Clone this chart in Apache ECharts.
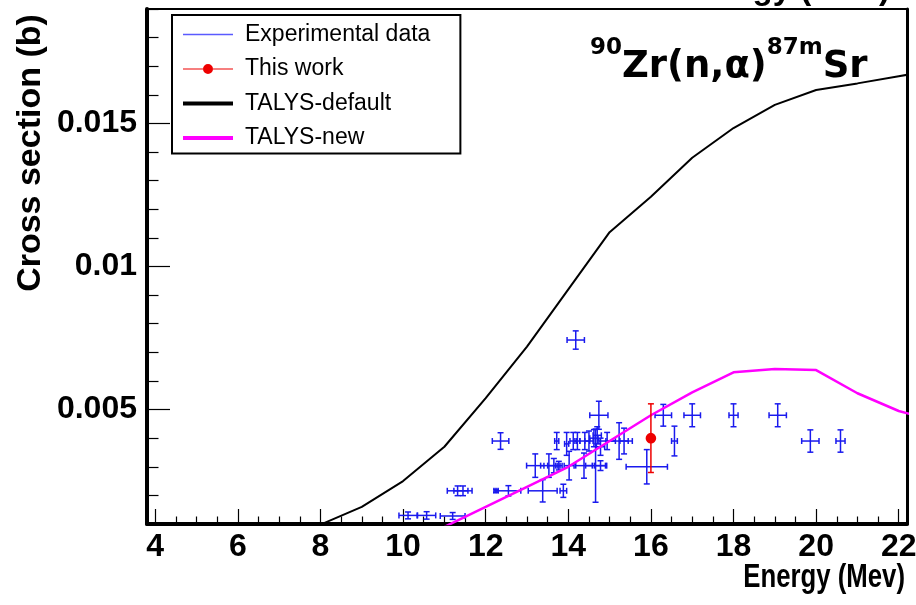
<!DOCTYPE html>
<html><head><meta charset="utf-8">
<script src="https://cdn.jsdelivr.net/npm/echarts@6/dist/echarts.min.js"></script>
<style>html,body{margin:0;padding:0;background:#fff}#c{width:916px;height:605px}</style>
</head><body><div id="c"></div>
<script>
// ---- axis ticks ----
const xMajorTicks = [4, 6, 8, 10, 12, 14, 16, 18, 20, 22];
const xTickLabels = ['4', '6', '8', '10', '12', '14', '16', '18', '20', '22'];
const xMinorTicks = [4.5, 5, 5.5, 6.5, 7, 7.5, 8.5, 9, 9.5, 10.5, 11, 11.5, 12.5, 13, 13.5,
  14.5, 15, 15.5, 16.5, 17, 17.5, 18.5, 19, 19.5, 20.5, 21, 21.5];
const yMajorTicks = [0.005, 0.01, 0.015];
const yTickLabels = ['0.005', '0.01', '0.015'];
const yMinorTicks = [0.001, 0.002, 0.003, 0.004, 0.006, 0.007, 0.008, 0.009, 0.011, 0.012,
  0.013, 0.014, 0.016, 0.017, 0.018, 0.019];

// ---- TALYS-default ----
const talysDefaultE  = [8, 9, 10, 11, 12, 13, 14, 15, 16, 17, 18, 19, 20, 21, 22, 23];
const talysDefaultXS = [0.00098, 0.0016, 0.0025, 0.0037, 0.0054, 0.0072, 0.0092, 0.0112,
  0.01244, 0.0138, 0.01484, 0.01565, 0.01617, 0.0164, 0.01665, 0.0169];

// ---- TALYS-new ----
const talysNewE  = [11, 12, 13, 14, 15, 16, 17, 18, 19, 20, 21, 22, 23];
const talysNewXS = [0.0009, 0.0016, 0.0023, 0.0030, 0.0039, 0.0048, 0.0056, 0.0063,
  0.00642, 0.00638, 0.00557, 0.00495, 0.00456];

// ---- Experimental data (EXFOR) ----
const expE     = [10.12, 10.57, 11.2, 11.32, 11.45, 12.25, 12.55, 13.38, 13.88,
  13.2, 13.53, 13.65, 13.77, 14.02, 14.38, 14.66, 14.78, 15.9,
  12.36, 13.72, 13.96, 14.12, 14.22, 14.4, 14.5, 14.62, 14.7, 14.78, 14.94, 15.23, 15.35, 16.57, 19.86, 20.59,
  14.74, 16.3, 17.0, 18.0, 19.07, 14.18];
const expXS    = [0.0013, 0.0013, 0.00128, 0.00216, 0.00216, 0.00216, 0.00216, 0.00216, 0.00216,
  0.00304, 0.00304, 0.00304, 0.00304, 0.00304, 0.00304, 0.00304, 0.00304, 0.0030,
  0.0039, 0.0039, 0.0038, 0.0039, 0.0039, 0.0039, 0.0039, 0.0040, 0.0041, 0.0037, 0.0039, 0.0039, 0.0039, 0.0039, 0.0039, 0.0039,
  0.0048, 0.0048, 0.0048, 0.0048, 0.0048, 0.00743];
const expEErr  = [0.22, 0.22, 0.3, 0.25, 0.22, 0.05, 0.3, 0.35, 0.08,
  0.21, 0.2, 0.15, 0.08, 0.12, 0.2, 0.24, 0.15, 0.5,
  0.2, 0.05, 0.05, 0.08, 0.06, 0.12, 0.1, 0.1, 0.1, 0.1, 0.2, 0.32, 0.1, 0.07, 0.21, 0.11,
  0.22, 0.2, 0.2, 0.11, 0.21, 0.21];
const expXSErr = [0.00012, 0.00013, 0.00012, 0.00017, 0.00017, 0.00005, 0.00018, 0.00039, 0.00023,
  0.00041, 0.00041, 0.00025, 0.00015, 0.0005, 0.00044, 0.00128, 0.00017, 0.0006,
  0.00029, 0.0003, 0.0004, 0.0003, 0.0003, 0.0003, 0.00035, 0.0003, 0.0003, 0.0003, 0.0003, 0.00064, 0.00045, 0.00052, 0.00039, 0.00039,
  0.00049, 0.00038, 0.0004, 0.0004, 0.0004, 0.00032];

// ---- This work ----
const thisWorkE = [16.0];
const thisWorkXS = [0.0040];
const thisWorkEErr = [0];
const thisWorkXSErr = [0.0012];

const FONT = '"Liberation Sans", Arial, Helvetica, sans-serif';

function errRender(color, cap, dotR) {
  return function (params, api) {
    const x = api.value(0), y = api.value(1), xe = api.value(2), ye = api.value(3);
    const c = api.coord([x, y]);
    const style = { stroke: color, lineWidth: 1.5, fill: null };
    const ch = [];
    const ln = (x1, y1, x2, y2) => ch.push({ type: 'line', shape: { x1, y1, x2, y2 }, style });
    if (xe > 0) {
      const l = api.coord([x - xe, y]), r = api.coord([x + xe, y]);
      ln(l[0], l[1], r[0], r[1]);
      ln(l[0], l[1] - cap, l[0], l[1] + cap);
      ln(r[0], r[1] - cap, r[0], r[1] + cap);
    }
    if (ye > 0) {
      const t = api.coord([x, y + ye]), b = api.coord([x, y - ye]);
      ln(t[0], t[1], b[0], b[1]);
      ln(t[0] - cap, t[1], t[0] + cap, t[1]);
      ln(b[0] - cap, b[1], b[0] + cap, b[1]);
    }
    if (dotR) ch.push({ type: 'circle', shape: { cx: c[0], cy: c[1], r: dotR }, style: { fill: color } });
    return { type: 'group', children: ch };
  };
}

// legend icons: 57x14 box, line drawn over the first 50 px (leaves a gap before the text)
const iconThin  = 'path://M0,0M57,14M0,6.25L50,6.25L50,7.75L0,7.75Z';
const iconThick = 'path://M0,0M57,14M0,5L50,5L50,9L0,9Z';
const iconDot   = 'path://M0,0M57,14M0,6.5L20,6.5L20,7.5L0,7.5ZM30,6.5L50,6.5L50,7.5L30,7.5ZM20,7A5,5,0,1,1,30,7A5,5,0,1,1,20,7Z';

const XMIN = 3.8, XMAX = 22.2, YMIN = 0.001, YMAX = 0.019;

const chart = echarts.init(document.getElementById('c'), null, { renderer: 'canvas' });
chart.setOption({
  animation: false,
  backgroundColor: '#fff',
  grid: { left: 147, right: 9, top: 9, bottom: 81, containLabel: false, outerBoundsMode: 'none' },
  title: {
    text: '{s|90}{m|Zr(n,α)}{s|87m}{m|Sr}',
    left: 590, top: 37, padding: 0,
    textStyle: {
      rich: {
        m: { fontFamily: '"DejaVu Sans"', fontWeight: 'bold', fontSize: 37, lineHeight: 60, color: '#000' },
        s: { fontFamily: '"DejaVu Sans"', fontWeight: 'bold', fontSize: 23, lineHeight: 24, verticalAlign: 'top', color: '#000' }
      }
    }
  },
  legend: {
    orient: 'vertical', left: 172, top: 15,
    padding: [8, 30, 4, 11],
    itemWidth: 57, itemHeight: 14, itemGap: 11.5,
    borderColor: '#000', borderWidth: 2, backgroundColor: '#fff',
    selectedMode: false,
    textStyle: { fontFamily: FONT, fontSize: 23, lineHeight: 22, color: '#000' },
    data: [
      { name: 'Experimental data', icon: iconThin, itemStyle: { color: '#5a5aff', borderWidth: 0 } },
      { name: 'This work', icon: iconDot, itemStyle: { color: '#ee0000', borderWidth: 0 } },
      { name: 'TALYS-default', icon: iconThick, itemStyle: { color: '#000', borderWidth: 0 } },
      { name: 'TALYS-new', icon: iconThick, itemStyle: { color: '#ff00ff', borderWidth: 0 } }
    ]
  },
  xAxis: [
    {
      type: 'value', min: XMIN, max: XMAX, position: 'bottom',
      axisLine: { show: true, onZero: false, lineStyle: { color: '#000', width: 4 } },
      axisTick: { show: true, inside: true, length: 15, customValues: xMajorTicks, lineStyle: { color: '#000', width: 1.2 } },
      axisLabel: {
        show: true, customValues: xMajorTicks, margin: 7,
        fontFamily: FONT, fontWeight: 'bold', fontSize: 32, color: '#000',
        formatter: v => xTickLabels[xMajorTicks.findIndex(t => Math.abs(t - v) < 1e-6)]
      },
      splitLine: { show: false }
    },
    {
      type: 'value', min: XMIN, max: XMAX, position: 'bottom',
      axisLine: { show: false, onZero: false },
      axisTick: { show: true, inside: true, length: 7.5, customValues: xMinorTicks, lineStyle: { color: '#000', width: 1.2 } },
      axisLabel: { show: false }, splitLine: { show: false }
    },
    {
      type: 'value', min: XMIN, max: XMAX, position: 'top',
      axisLine: { show: true, onZero: false, lineStyle: { color: '#000', width: 2 } },
      axisTick: { show: false }, axisLabel: { show: false }, splitLine: { show: false }
    }
  ],
  yAxis: [
    {
      type: 'value', min: YMIN, max: YMAX, position: 'left',
      axisLine: { show: true, onZero: false, lineStyle: { color: '#000', width: 4 } },
      axisTick: { show: true, inside: true, length: 23, customValues: yMajorTicks, lineStyle: { color: '#000', width: 1.2 } },
      axisLabel: {
        show: true, customValues: yMajorTicks, margin: 10,
        fontFamily: FONT, fontWeight: 'bold', fontSize: 32, color: '#000',
        formatter: v => yTickLabels[yMajorTicks.findIndex(t => Math.abs(t - v) < 1e-9)]
      },
      splitLine: { show: false }
    },
    {
      type: 'value', min: YMIN, max: YMAX, position: 'left',
      axisLine: { show: false, onZero: false },
      axisTick: { show: true, inside: true, length: 11.5, customValues: yMinorTicks, lineStyle: { color: '#000', width: 1.2 } },
      axisLabel: { show: false }, splitLine: { show: false }
    },
    {
      type: 'value', min: YMIN, max: YMAX, position: 'right',
      axisLine: { show: true, onZero: false, lineStyle: { color: '#000', width: 3 } },
      axisTick: { show: false }, axisLabel: { show: false }, splitLine: { show: false }
    }
  ],
  graphic: [
    {
      type: 'text', x: 31, y: 153, rotation: Math.PI / 2,
      style: { text: 'Cross section (b)', font: 'bold 34px ' + FONT, fill: '#000', align: 'center', verticalAlign: 'middle' }
    },
    {
      type: 'text', x: 905, y: 578, scaleX: 0.78,
      style: { text: 'Energy (Mev)', font: 'bold 33px ' + FONT, fill: '#000', align: 'right', verticalAlign: 'middle' }
    },
    {
      type: 'text', x: 890, y: 6,
      style: { text: 'Energy (MeV)', font: 'bold 33px ' + FONT, fill: '#000', align: 'right', verticalAlign: 'bottom' }
    }
  ],
  series: [
    {
      name: 'Experimental data', type: 'custom', xAxisIndex: 0, yAxisIndex: 0, z: 2, clip: true,
      itemStyle: { color: '#1a1aee' },
      renderItem: errRender('#1a1aee', 3, 0),
      encode: { x: 0, y: 1 },
      data: expE.map((e, i) => [e, expXS[i], expEErr[i], expXSErr[i]])
    },
    {
      name: 'TALYS-default', type: 'line', xAxisIndex: 0, yAxisIndex: 0, z: 3, clip: true,
      symbol: 'none', smooth: false, color: '#000',
      lineStyle: { color: '#000', width: 2 },
      data: talysDefaultE.map((e, i) => [e, talysDefaultXS[i]])
    },
    {
      name: 'TALYS-new', type: 'line', xAxisIndex: 0, yAxisIndex: 0, z: 3, clip: true,
      symbol: 'none', smooth: false, color: '#ff00ff',
      lineStyle: { color: '#ff00ff', width: 2.5 },
      data: talysNewE.map((e, i) => [e, talysNewXS[i]])
    },
    {
      name: 'This work', type: 'custom', xAxisIndex: 0, yAxisIndex: 0, z: 4, clip: true,
      itemStyle: { color: '#ee0000' },
      renderItem: errRender('#ee0000', 3, 5.3),
      encode: { x: 0, y: 1 },
      data: thisWorkE.map((e, i) => [e, thisWorkXS[i], thisWorkEErr[i], thisWorkXSErr[i]])
    }
  ]
});
</script>
</body></html>
